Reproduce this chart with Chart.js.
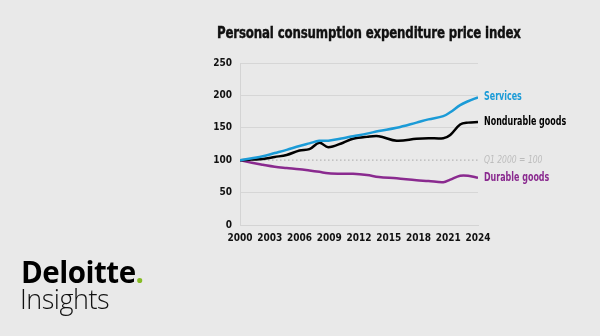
<!DOCTYPE html>
<html>
<head>
<meta charset="utf-8">
<script src="https://cdn.jsdelivr.net/npm/chart.js@4"></script>
<style>
  body { margin: 0; background: #e9e9e9; }
  #wrap { position: relative; width: 600px; height: 336px; overflow: hidden; }
  #title { position: absolute; left: 217px; top: 23px; white-space: nowrap; transform: scaleX(0.82); transform-origin: left top;
           font: bold 16px "DejaVu Sans Condensed", "DejaVu Sans", sans-serif; color: #111; letter-spacing: -0.2px;
           -webkit-text-stroke: 0.4px #111; }
  #logo1 { position: absolute; left: 21px; top: 251px; font: bold 29.5px "Open Sans", sans-serif; color: #000; letter-spacing: -0.5px; }
  #logo1 span { color: #86bc25; }
  #logo2 { position: absolute; left: 20px; top: 280px; font: 300 27px "Open Sans", sans-serif; color: #111; letter-spacing: -0.5px; }
  canvas { position: absolute; left: 0; top: 0; }
</style>
</head>
<body>
<div id="wrap">
  <canvas id="lineChart" width="600" height="336"></canvas>
  <div id="title">Personal consumption expenditure price index</div>
  <div id="logo1">Deloitte<span>.</span></div>
  <div id="logo2">Insights</div>
</div>
<script>
// PCE price index, Q1 2000 = 100

const years      = [2000, 2001.2, 2002.3, 2003.5, 2004.7, 2006, 2007, 2008, 2008.9, 2010.4, 2011.4, 2012.8, 2014, 2015.8, 2017.8, 2019, 2020.5, 2021.2, 2022.2, 2023, 2024];
const services   = [100, 103, 106, 111, 116, 122, 126, 130, 130, 134, 137, 141, 145, 150, 158, 163, 168, 174, 185, 191, 197];
const nondurable = [100, 101, 102, 105, 108, 115, 117, 127, 120, 127, 133, 136, 137, 130, 133, 134, 134, 139, 155, 158, 159];
const durable    = [100, 96, 93, 90, 88, 86, 84, 82, 80, 79, 79, 77, 74, 72, 69, 68, 66, 70, 76, 76, 73];
const baseYears  = [2000, 2024];
const baseValues = [100, 100];

const seriesNames  = ["Services", "Nondurable goods", "Durable goods"];
const seriesColors = ["#1b9bd7", "#000000", "#8a2a8f"];
const baseLabel    = "Q1 2000 = 100";

const font = '"DejaVu Sans Condensed", "DejaVu Sans", sans-serif';

function pts(xs, ys) {
    return xs.map((x, i) => ({ x: x, y: ys[i] }));
}

// series names drawn at the end of each line, squeezed to look condensed
const endLabels = {
    id: 'endLabels',
    afterDatasetsDraw(chart) {
        const ctx = chart.ctx;
        chart.data.datasets.forEach((ds, i) => {
            const meta = chart.getDatasetMeta(i);
            const last = meta.data[meta.data.length - 1];
            ctx.save();
            ctx.textBaseline = 'middle';
            if (ds.isBase) {
                ctx.font = 'italic 11px ' + font;
                ctx.fillStyle = '#bcbcbc';
            } else {
                ctx.font = 'bold 11.5px ' + font;
                ctx.fillStyle = ds.borderColor;
            }
            ctx.translate(last.x + 6, last.y);
            ctx.scale(0.77, 1);
            ctx.fillText(ds.label, 0, 0);
            ctx.restore();
        });
    }
};

new Chart(document.getElementById("lineChart"), {
    type: 'line',
    data: {
        datasets: [
            { label: seriesNames[0], data: pts(years, services), borderColor: seriesColors[0], borderWidth: 2.5, tension: 0.35, pointRadius: 0 },
            { label: seriesNames[1], data: pts(years, nondurable), borderColor: seriesColors[1], borderWidth: 2.5, tension: 0.35, pointRadius: 0 },
            { label: baseLabel, data: pts(baseYears, baseValues), borderColor: '#b5b5b5', borderWidth: 1.2, borderDash: [1.5, 2.5], pointRadius: 0, isBase: true, order: 5 },
            { label: seriesNames[2], data: pts(years, durable), borderColor: seriesColors[2], borderWidth: 2.5, tension: 0.35, pointRadius: 0 }
        ]
    },
    options: {
        responsive: false,
        animation: false,
        layout: { padding: { left: 200, top: 63, right: 122, bottom: 91 } },
        plugins: {
            legend: { display: false },
            tooltip: { enabled: false }
        },
        scales: {
            x: {
                type: 'linear',
                min: 2000,
                max: 2024,
                afterFit: s => { s.height = 20; },
                grid: { display: false, drawTicks: false },
                border: { color: '#d4d4d4' },
                ticks: {
                    stepSize: 3,
                    padding: 7,
                    autoSkip: false,
                    maxRotation: 0,
                    minRotation: 0,
                    color: '#111',
                    font: { family: font, size: 10, weight: 'bold' },
                    callback: v => String(v)
                }
            },
            y: {
                min: 0,
                max: 250,
                afterFit: s => { s.width = 40; },
                grid: {
                    drawTicks: false,
                    color: c => (c.tick && c.tick.value === 100) ? 'rgba(0,0,0,0)' : '#d6d6d6'
                },
                border: { color: '#d4d4d4' },
                ticks: {
                    stepSize: 50,
                    padding: 8,
                    color: '#111',
                    font: { family: font, size: 10, weight: 'bold' }
                }
            }
        }
    },
    plugins: [endLabels]
});
</script>
</body>
</html>
